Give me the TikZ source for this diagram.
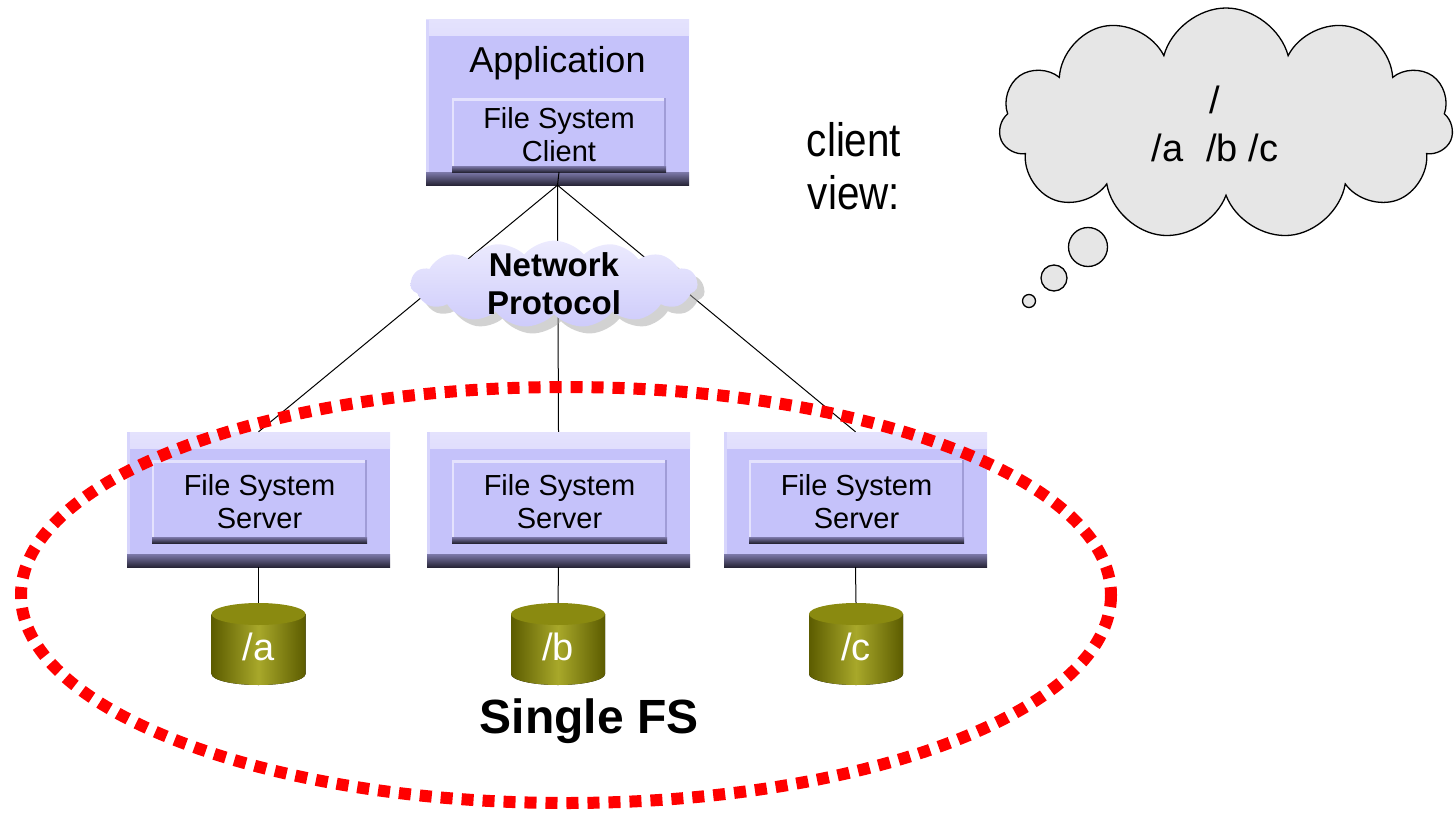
\documentclass[tikz,border=0pt]{standalone}
\usepackage{fontspec}
\setmainfont{Liberation Sans}
\newfontfamily\narrowfont[FakeStretch=0.86]{Liberation Sans}
\usetikzlibrary{shapes.symbols,shadows,positioning,calc}

\definecolor{lav}{RGB}{197,194,250}
\definecolor{lavlight}{RGB}{228,226,253}
\definecolor{lavedge}{RGB}{160,156,215}
\definecolor{lavdark}{RGB}{125,121,170}
\definecolor{navy}{RGB}{40,38,56}
\definecolor{diskdark}{RGB}{92,92,0}
\definecolor{disklight}{RGB}{168,168,42}
\definecolor{disktop}{RGB}{138,138,16}
\definecolor{thought}{RGB}{230,230,230}
\definecolor{dotred}{RGB}{255,0,0}

\begin{document}
\begin{tikzpicture}[x=1pt,y=-1pt,
    outerbox/.style={rectangle, fill=lav, inner sep=0pt, minimum width=263pt,
        path picture={
            \fill[top color=lavlight, bottom color=lav] (path picture bounding box.north west) rectangle ([yshift=-16pt]path picture bounding box.north east);
            \fill[lavlight!60!lav] (path picture bounding box.north west) rectangle ([xshift=3pt]path picture bounding box.south west);
            \fill[top color=lavdark, bottom color=navy] ([yshift=13pt]path picture bounding box.south west) rectangle (path picture bounding box.south east);
        }},
    innerbox/.style={rectangle, fill=lav, inner sep=0pt, align=center,
        font=\fontsize{29}{33}\selectfont,
        path picture={
            \fill[lavlight] (path picture bounding box.north west) rectangle ([yshift=-3pt]path picture bounding box.north east);
            \fill[lavlight] (path picture bounding box.north west) rectangle ([xshift=2pt]path picture bounding box.south west);
            \fill[lavedge] ([xshift=-2pt]path picture bounding box.north east) rectangle (path picture bounding box.south east);
            \fill[top color=lavdark, bottom color=navy] ([yshift=6pt]path picture bounding box.south west) rectangle (path picture bounding box.south east);
        }},
    netcloud/.style={cloud, cloud puffs=15, cloud puff arc=100, aspect=3.6,
        top color=lavlight!70!white, bottom color=lav!85!white,
        drop shadow={shadow xshift=7pt, shadow yshift=-7pt, fill=black!35},
        inner xsep=-3pt, inner ysep=-8pt, minimum width=287pt, minimum height=84pt,
        align=center, font=\bfseries\fontsize{33}{38}\selectfont},
    thoughtcloud/.style={cloud, cloud puffs=11, aspect=2.3, draw, line width=1.3pt,
        fill=thought, minimum width=454pt, minimum height=232pt, align=center,
        font=\fontsize{38}{48}\selectfont},
    bubble/.style={circle, draw, line width=1.3pt, fill=thought, inner sep=0pt},
    disklabel/.style={text=white, font=\fontsize{38}{40}\selectfont, inner sep=0pt},
    link/.style={black, line width=1pt}
]
    \useasboundingbox (0,0) rectangle (1456,816);

    % application with its client
    \node[outerbox, minimum height=165pt] (app) at (557.5,102.5) {};
    \node[anchor=base, font=\fontsize{36}{40}\selectfont] (apptext) at (557.5,73) {Application};
    \node[innerbox, minimum width=214pt, minimum height=74pt] (client) at (559,135) {File System\\Client};

    % servers
    \foreach \n/\cx in {a/258.5, b/558.5, c/855.5} {
        \node[outerbox, minimum height=135pt] (srv\n) at (\cx,499.5) {};
        \node[innerbox, minimum width=215pt, minimum height=83pt] (fs\n) at (\cx+1,501.5) {File System\\Server};
    }

    % links through the network
    \draw[link] (client.south) -- (app.south);
    \foreach \n in {a,b,c}
        \draw[link] (app.south) -- (srv\n.north);

    \node[netcloud] (net) at (554,284) {Network\\Protocol};

    % disks
    \foreach \n/\cx in {a/258.5, b/558, c/856} {
        \fill[left color=diskdark, right color=diskdark, middle color=disklight]
            (\cx-47,614) -- (\cx-47,674) arc[start angle=180, end angle=0, x radius=47, y radius=11] -- (\cx+47,614) -- cycle;
        \fill[disktop] (\cx,614) ellipse [x radius=47, y radius=11];
        \coordinate (top\n) at (\cx,603);
        \node[disklabel] (disk\n) at (\cx,647) {/\n};
        \draw[link] (srv\n.south) -- (top\n);
    }

    % the single file system
    \draw[dotred, line width=12pt, dash pattern=on 12pt off 9pt] (566,595) ellipse [x radius=545, y radius=208];
    \node[anchor=base, font=\bfseries\fontsize{48}{50}\selectfont] (single) at (589,733) {Single FS};

    % client view
    \node[align=center, font=\narrowfont\fontsize{47}{53}\selectfont] (cview) at (854,166) {client\\view:};
    \node[thoughtcloud] (view) at (1226,124) {/\hspace*{22pt}\\/a\hspace{0.6em}/b /c\hspace*{22pt}};
    \node[bubble, minimum size=39pt] (bub1) at (1088,247) {};
    \node[bubble, minimum size=26pt] (bub2) at (1054,278) {};
    \node[bubble, minimum size=13pt] (bub3) at (1029,301) {};
\end{tikzpicture}
\end{document}
